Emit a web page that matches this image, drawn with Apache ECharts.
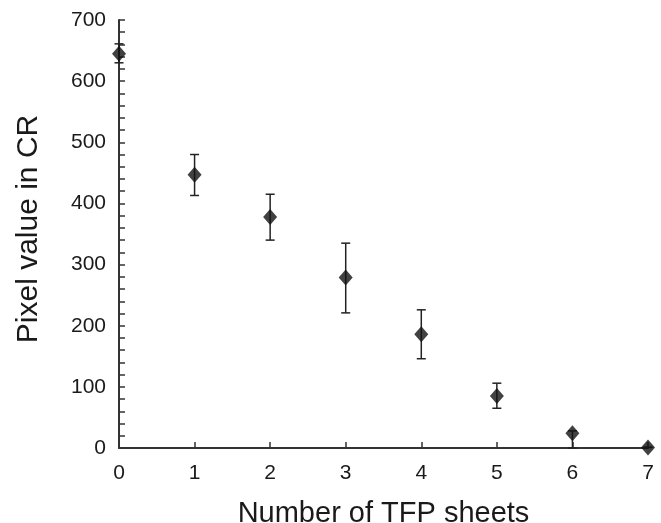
<!DOCTYPE html>
<html>
<head>
<meta charset="utf-8">
<script src="https://cdn.jsdelivr.net/npm/echarts@6/dist/echarts.min.js"></script>
<style>html,body{margin:0;padding:0;background:#fff}#c{width:661px;height:523px}</style>
</head>
<body>
<div id="c"></div>
<script>
var sheets = [0, 1, 2, 3, 4, 5, 6, 7];
var pixelMean = [645, 447, 378, 279, 186, 85, 24, 1];
var errLow = [630, 413, 340, 221, 146, 65, 0, 1];
var errHigh = [661, 480, 415, 335, 226, 106, 28, 1];
var yTicks = [0, 100, 200, 300, 400, 500, 600, 700];
var xTicks = [0, 1, 2, 3, 4, 5, 6, 7];

var chart = echarts.init(document.getElementById('c'));
var font = 'Liberation Sans, Arial, sans-serif';
var errData = sheets.map(function (s, i) { return [s, errLow[i], errHigh[i]]; });
var ptData = sheets.map(function (s, i) { return [s, pixelMean[i]]; });

chart.setOption({
  animation: false,
  grid: { left: 119, right: 13, top: 20, bottom: 75, containLabel: false, outerBoundsMode: 'none' },
  xAxis: {
    type: 'value', min: xTicks[0], max: xTicks[xTicks.length - 1], interval: 1,
    name: 'Number of TFP sheets', nameLocation: 'middle', nameGap: 51,
    nameTextStyle: { fontFamily: font, fontSize: 29, color: '#1a1a1a' },
    axisLine: { show: true, onZero: false, lineStyle: { color: '#333', width: 2 } },
    axisTick: { show: true, inside: true, length: 6, lineStyle: { color: '#333', width: 1.5 } },
    axisLabel: { fontFamily: font, fontSize: 21, color: '#1a1a1a', margin: 15 },
    splitLine: { show: false }
  },
  yAxis: {
    type: 'value', min: yTicks[0], max: yTicks[yTicks.length - 1], interval: 100,
    name: 'Pixel value in CR', nameLocation: 'middle', nameGap: 75, nameRotate: 90,
    nameTextStyle: { fontFamily: font, fontSize: 30, color: '#1a1a1a', padding: [0, 0, 0, 10] },
    axisLine: { show: true, lineStyle: { color: '#333', width: 2 } },
    axisTick: { show: true, inside: true, length: 6, lineStyle: { color: '#333', width: 1.5 } },
    minorTick: { show: true, splitNumber: 5, length: 6, lineStyle: { color: '#333', width: 1.5 } },
    axisLabel: { fontFamily: font, fontSize: 21, color: '#1a1a1a', margin: 13 },
    splitLine: { show: false }
  },
  series: [
    {
      type: 'custom',
      data: errData,
      z: 1,
      renderItem: function (params, api) {
        var x = api.value(0);
        var lo = api.coord([x, api.value(1)]);
        var hi = api.coord([x, api.value(2)]);
        var w = 4.5;
        var st = { stroke: '#222', lineWidth: 1.5 };
        return {
          type: 'group',
          children: [
            { type: 'line', shape: { x1: lo[0], y1: lo[1], x2: hi[0], y2: hi[1] }, style: st },
            { type: 'line', shape: { x1: hi[0] - w, y1: hi[1], x2: hi[0] + w, y2: hi[1] }, style: st },
            { type: 'line', shape: { x1: lo[0] - w, y1: lo[1], x2: lo[0] + w, y2: lo[1] }, style: st }
          ]
        };
      }
    },
    {
      type: 'scatter',
      data: ptData,
      symbol: 'diamond',
      symbolSize: [14, 16],
      itemStyle: { color: '#111' },
      z: 3
    }
  ]
});
</script>
</body>
</html>
